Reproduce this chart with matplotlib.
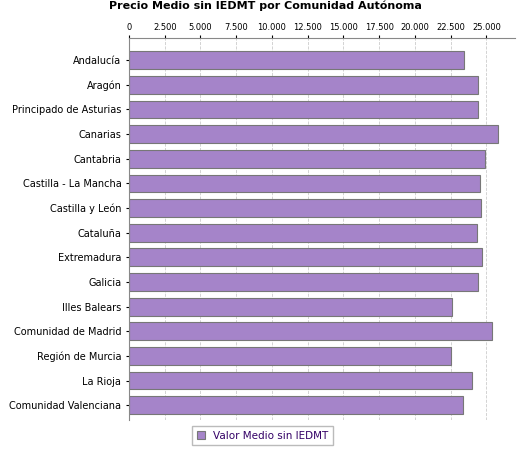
import matplotlib
matplotlib.use("Agg")
import matplotlib.pyplot as plt
from matplotlib.ticker import FuncFormatter

regions = ["Andalucía", "Aragón", "Principado de Asturias", "Canarias", "Cantabria",
           "Castilla - La Mancha", "Castilla y León", "Cataluña", "Extremadura", "Galicia",
           "Illes Balears", "Comunidad de Madrid", "Región de Murcia", "La Rioja",
           "Comunidad Valenciana"]
values = [23430, 24440, 24440, 25840, 24930, 24580, 24650, 24370, 24720, 24440,
          22610, 25420, 22540, 24020, 23390]

fig = plt.figure(figsize=(5.25, 4.5), dpi=100)
ax = fig.add_axes([129/525, 30/450, 386/525, 382/450])
y = list(range(len(regions)))
ax.barh(y, values, height=0.72, color="#a584c9", edgecolor="#777777", linewidth=0.8,
        label="Valor Medio sin IEDMT", zorder=2)
ax.set_ylim(len(regions) - 0.4, -0.9)
ax.set_xlim(0, 27000)
ax.set_yticks(y)
ax.set_yticklabels(regions, fontsize=7)
ax.set_xticks(range(0, 25001, 2500))
ax.xaxis.set_major_formatter(FuncFormatter(lambda v, p: f"{int(v):,}".replace(",", ".")))
ax.xaxis.tick_top()
ax.tick_params(axis="x", labelsize=6, length=2, pad=2)
ax.tick_params(axis="y", length=2)
ax.grid(axis="x", color="#cccccc", linestyle="--", linewidth=0.6, zorder=0)
for s in ["right", "bottom"]:
    ax.spines[s].set_visible(False)
ax.spines["top"].set_color("#888888")
ax.spines["left"].set_color("#888888")
fig.text(265/525, 0.998, "Precio Medio sin IEDMT por Comunidad Autónoma",
         ha="center", va="top", fontsize=8, fontweight="bold")
fig.legend(loc="lower center", bbox_to_anchor=(0.5, 0.0), fontsize=7.5, frameon=True,
           edgecolor="#aaaaaa", fancybox=False, handlelength=0.8, labelcolor="#330066")
fig.savefig("out.png")
